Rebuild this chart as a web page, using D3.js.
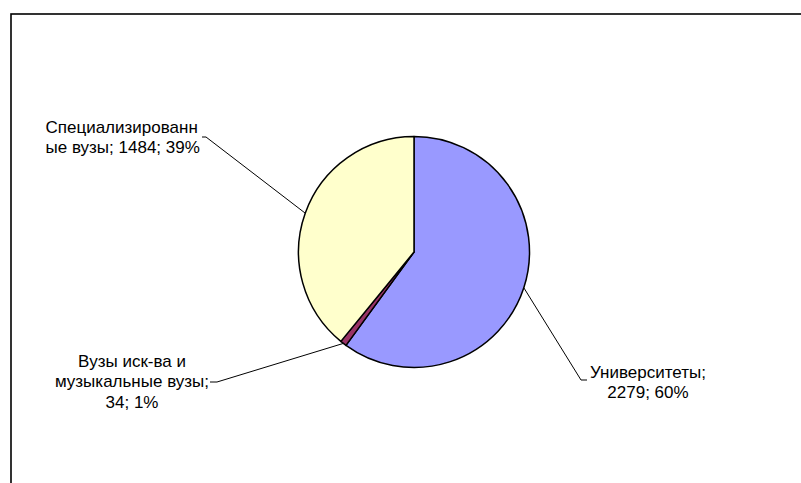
<!DOCTYPE html>
<html>
<head>
<meta charset="utf-8">
<script src="https://cdn.jsdelivr.net/npm/d3@7"></script>
<style>
  html, body { margin: 0; padding: 0; background: #fff; }
  svg { display: block; }
  text { font-family: Arial, "Liberation Sans", sans-serif; font-size: 17px; fill: #000; }
</style>
</head>
<body>
<svg id="chart" width="801" height="483"></svg>
<script>
// Number of higher-education institutions by type
const categories = ["Университеты", "Вузы иск-ва и музыкальные вузы", "Специализированные вузы"];
const values = [2279, 34, 1484];
const colors = ["#9999FF", "#993366", "#FFFFCC"];
// Label text lines for each slice (wrapped as in the chart)
const labelLines = [
  ["Университеты;", "2279; 60%"],
  ["Вузы иск-ва и", "музыкальные вузы;", "34; 1%"],
  ["Специализированн", "ые вузы; 1484; 39%"]
];

const W = 801, H = 483;
const cx = 414, cy = 252, R = 115.5;

// Label layout: anchor point of the text block, text alignment, and the elbow of the leader line
const labelLayout = [
  { x: 648, y: 377.5, anchor: "middle", elbow: [581, 380], end: [587, 380] },
  { x: 132, y: 366.5, anchor: "middle", elbow: [217, 382], end: [210, 382] },
  { x: 45.5, y: 132.5, anchor: "start", elbow: [206, 137], end: [202, 137] }
];
const lineGap = 20.8;

const svg = d3.select("#chart");

// Chart area frame
svg.append("rect")
  .attr("x", 11).attr("y", 14)
  .attr("width", W + 20).attr("height", H + 20)
  .attr("fill", "none").attr("stroke", "#000").attr("stroke-width", 1.6);

const data = categories.map((c, i) => ({ name: c, value: values[i], color: colors[i], lines: labelLines[i], layout: labelLayout[i] }));

const pie = d3.pie().value(d => d.value).sort(null).startAngle(0).endAngle(2 * Math.PI);
const arcs = pie(data);
const arc = d3.arc().innerRadius(0).outerRadius(R);

const g = svg.append("g").attr("transform", `translate(${cx},${cy})`);

g.selectAll("path.slice")
  .data(arcs)
  .join("path")
  .attr("class", "slice")
  .attr("d", arc)
  .attr("fill", d => d.data.color)
  .attr("stroke", "#000")
  .attr("stroke-width", 1.5)
  .attr("stroke-linejoin", "round");

// Leader lines from the middle of each slice's outer edge
const edgePoint = d => {
  const a = (d.startAngle + d.endAngle) / 2;
  return [cx + R * Math.sin(a), cy - R * Math.cos(a)];
};

svg.selectAll("polyline.leader")
  .data(arcs)
  .join("polyline")
  .attr("class", "leader")
  .attr("points", d => [edgePoint(d), d.data.layout.elbow, d.data.layout.end].map(p => p.join(",")).join(" "))
  .attr("fill", "none")
  .attr("stroke", "#000")
  .attr("stroke-width", 1);

// Data labels
arcs.forEach(d => {
  const L = d.data.layout;
  const t = svg.append("text")
    .attr("x", L.x).attr("y", L.y)
    .attr("text-anchor", L.anchor);
  d.data.lines.forEach((line, i) => {
    t.append("tspan")
      .attr("x", L.x)
      .attr("dy", i === 0 ? 0 : lineGap)
      .text(line);
  });
});
</script>
</body>
</html>
